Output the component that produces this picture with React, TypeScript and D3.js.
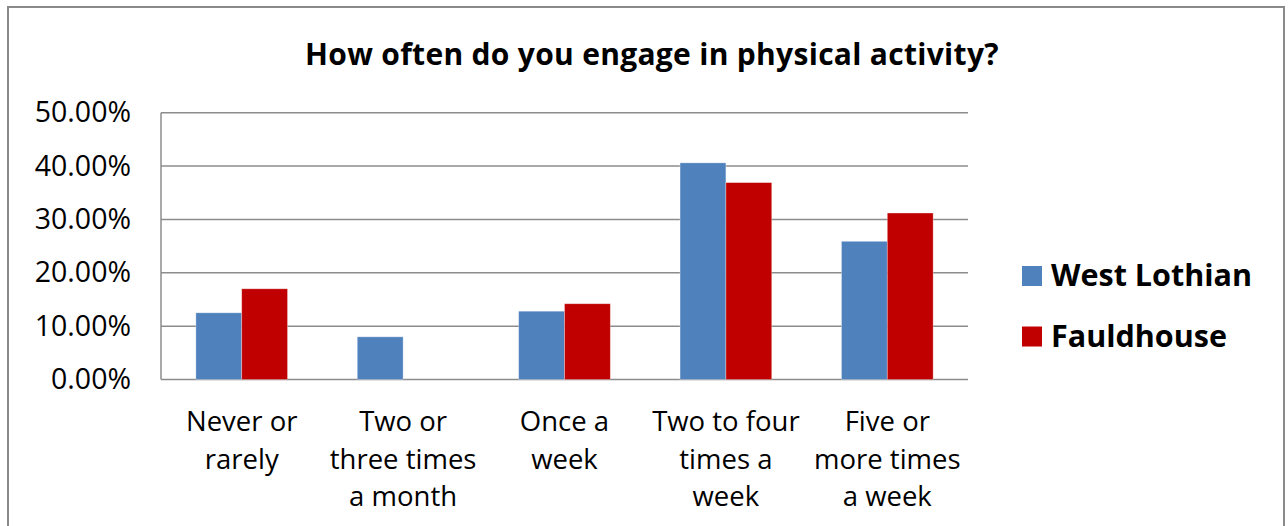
import React from "react";
import * as d3 from "d3";

const categories = [
  "Never or rarely",
  "Two or three times a month",
  "Once a week",
  "Two to four times a week",
  "Five or more times a week",
];
const categoryLines = [
  ["Never or", "rarely"],
  ["Two or", "three times", "a month"],
  ["Once a", "week"],
  ["Two to four", "times a", "week"],
  ["Five or", "more times", "a week"],
];
const seriesNames = ["West Lothian", "Fauldhouse"];
const westLothian = [12.5, 8.0, 12.8, 40.6, 25.9];
const fauldhouse = [17.0, 0, 14.2, 36.9, 31.2];
const yTicks = [0, 10, 20, 30, 40, 50];
const title = "How often do you engage in physical activity?";
const colors = ["#4F81BD", "#C00000"];

const W = 1288;
const H = 526;
const FONT = "'Open Sans', 'Noto Sans', sans-serif";

export default function App() {
  const left = 161, right = 968, top = 112.7, bottom = 379.5;
  const y = d3.scaleLinear().domain([0, 50]).range([bottom, top]);
  const x0 = d3.scaleBand<string>().domain(categories).range([left, right]).padding(0);
  const groupW = x0.bandwidth() * 0.568;
  const x1 = d3.scaleBand<string>().domain(seriesNames).range([0, groupW]).padding(0);
  const values = [westLothian, fauldhouse];

  return (
    <svg width={W} height={H} style={{ position: "absolute", left: 0, top: 0, background: "#fff" }}>
      <rect x={8} y={7} width={1276} height={540} fill="#fff" stroke="#8a8a8a" strokeWidth={2} />
      <text x={652} y={65} textAnchor="middle" fontFamily={FONT} fontWeight={700} fontSize={30} letterSpacing={0.3} fill="#000">
        {title}
      </text>
      {yTicks.map((t) => (
        <g key={t}>
          <line x1={left} x2={right} y1={y(t)} y2={y(t)} stroke="#8c8c8c" strokeWidth={1.5} />
          <text x={131} y={y(t) + 9.5} textAnchor="end" fontFamily={FONT} fontSize={28.5} fill="#000">
            {t.toFixed(2) + "%"}
          </text>
        </g>
      ))}
      <line x1={left} x2={left} y1={top} y2={bottom} stroke="#8c8c8c" strokeWidth={1.5} />
      {categories.map((c, ci) => {
        const gx = x0(c)! + (x0.bandwidth() - groupW) / 2;
        return (
          <g key={c}>
            {seriesNames.map((s, si) => {
              const v = values[si][ci];
              if (!v) return null;
              return (
                <rect
                  key={s}
                  x={gx + x1(s)!}
                  y={y(v)}
                  width={x1.bandwidth()}
                  height={y(0) - y(v)}
                  fill={colors[si]}
                  stroke="#ffffff"
                  strokeOpacity={0.4}
                  strokeWidth={0.8}
                />
              );
            })}
            {categoryLines[ci].map((ln, li) => (
              <text
                key={li}
                x={x0(c)! + x0.bandwidth() / 2}
                y={431 + li * 37.5}
                textAnchor="middle"
                fontFamily={FONT}
                fontSize={27.5}
                fill="#000"
              >
                {ln}
              </text>
            ))}
          </g>
        );
      })}
      {seriesNames.map((s, si) => (
        <g key={s}>
          <rect x={1022} y={266 + si * 60.5} width={20} height={20} fill={colors[si]} />
          <text x={1051} y={286 + si * 60.5} fontFamily={FONT} fontWeight={700} fontSize={30.5} fill="#000">
            {s}
          </text>
        </g>
      ))}
    </svg>
  );
}
